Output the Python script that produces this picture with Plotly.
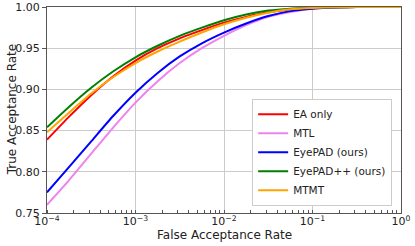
import plotly.graph_objects as go

far = [1e-4, 1.78e-4, 3.16e-4, 5.62e-4, 1e-3, 1.78e-3, 3.16e-3, 5.62e-3,
       1e-2, 1.78e-2, 3.16e-2, 5.62e-2, 1e-1, 1.78e-1, 3.16e-1, 1.0]

ea_only = [0.839, 0.867, 0.893, 0.916, 0.935, 0.950, 0.962, 0.972,
           0.981, 0.988, 0.9935, 0.997, 0.9988, 0.9996, 1.0, 1.0]
mtl = [0.760, 0.790, 0.822, 0.854, 0.884, 0.910, 0.932, 0.950,
       0.965, 0.978, 0.988, 0.994, 0.998, 0.9995, 1.0, 1.0]
eyepad = [0.775, 0.806, 0.837, 0.868, 0.896, 0.920, 0.940, 0.956,
          0.969, 0.980, 0.989, 0.995, 0.998, 0.9995, 1.0, 1.0]
eyepadpp = [0.854, 0.879, 0.902, 0.922, 0.939, 0.953, 0.965, 0.975,
            0.984, 0.991, 0.9957, 0.998, 0.999, 0.9996, 1.0, 1.0]
mtmt = [0.848, 0.872, 0.895, 0.915, 0.932, 0.946, 0.958, 0.969,
        0.979, 0.987, 0.993, 0.9972, 0.9988, 0.9996, 1.0, 1.0]

series = [("EA only", ea_only, "#ff0000"),
          ("MTL", mtl, "#ee82ee"),
          ("EyePAD (ours)", eyepad, "#0000ff"),
          ("EyePAD++ (ours)", eyepadpp, "#008000"),
          ("MTMT", mtmt, "#ffa500")]

x_tickvals = [1e-4, 1e-3, 1e-2, 1e-1, 1]
x_ticktext = ["10<sup>−4</sup>", "10<sup>−3</sup>", "10<sup>−2</sup>", "10<sup>−1</sup>", "10<sup>0</sup>"]
y_tickvals = [0.75, 0.80, 0.85, 0.90, 0.95, 1.00]
y_ticktext = ["0.75", "0.80", "0.85", "0.90", "0.95", "1.00"]

fig = go.Figure()
for name, vals, color in series:
    fig.add_trace(go.Scatter(x=far, y=vals, mode="lines", name=name,
                             line=dict(color=color, width=2, shape="spline", smoothing=0.6)))

fig.update_layout(
    width=415, height=246,
    autosize=False,
    margin=dict(l=47, r=14, t=7, b=33, pad=0, autoexpand=False),
    paper_bgcolor="white", plot_bgcolor="white",
    font=dict(family="DejaVu Sans", size=11, color="#222"),
    legend=dict(x=0.975, y=0.035, xanchor="right", yanchor="bottom",
                bgcolor="white", bordercolor="#cccccc", borderwidth=1,
                font=dict(size=10.5), tracegroupgap=0, itemwidth=30),
    showlegend=True,
    annotations=[
        dict(text="False Acceptance Rate", xref="paper", yref="paper",
             x=0.5, y=-0.105, xanchor="center", yanchor="middle",
             showarrow=False, font=dict(size=12)),
        dict(text="True Acceptance Rate", xref="paper", yref="paper",
             x=-0.098, y=0.5, xanchor="center", yanchor="middle", textangle=-90,
             showarrow=False, font=dict(size=12)),
    ],
)
fig.update_xaxes(type="log", range=[-4, 0], tickvals=x_tickvals, ticktext=x_ticktext,
                 automargin=False, ticklabelstandoff=-2,
                 showgrid=True, gridcolor="#cccccc", gridwidth=1,
                 showline=True, linecolor="#555", linewidth=1, mirror=True,
                 ticks="", zeroline=False,
                 minor=dict(ticks="inside", ticklen=3, tickcolor="#555", showgrid=False, dtick="D1"),
                 tickfont=dict(size=11))
fig.update_yaxes(range=[0.75, 1.0], tickvals=y_tickvals, ticktext=y_ticktext,
                 automargin=False,
                 showgrid=True, gridcolor="#cccccc", gridwidth=1,
                 showline=True, linecolor="#555", linewidth=1, mirror=True,
                 ticks="outside", ticklen=4, tickcolor="#555", zeroline=False,
                 tickfont=dict(size=11))

fig.write_html("out.html", config={"displayModeBar": False},
               post_script="document.body.style.margin='0';document.body.style.padding='0';")
